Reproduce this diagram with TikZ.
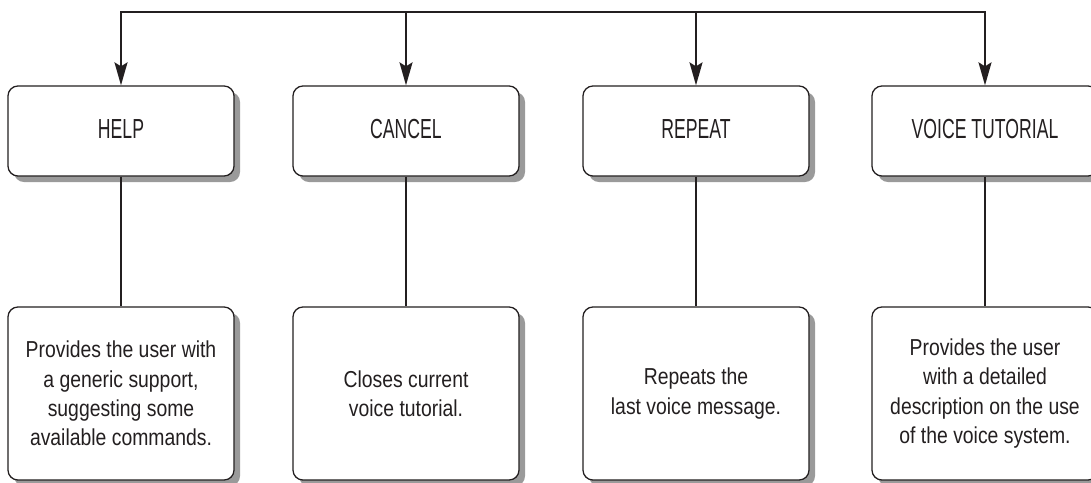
\documentclass[tikz,border=0pt]{standalone}
\usepackage{fontspec}
\setmainfont{Liberation Sans}[FakeStretch=0.84]
\newfontfamily\titlefont{Liberation Sans}[FakeStretch=0.64]
\usepackage{xcolor}
\usetikzlibrary{shadows,arrows.meta}
\definecolor{VMInk}{HTML}{231F20}
\definecolor{VMShadow}{HTML}{9A9A9A}
\tikzset{
  cmdbox/.style={draw=VMInk,line width=0.9pt,fill=white,rounded corners=0.25cm,
    minimum width=5.65cm,minimum height=2.25cm,inner sep=0pt,text=VMInk,
    font=\titlefont\fontsize{19.6}{22}\selectfont,
    drop shadow={shadow xshift=0.15cm,shadow yshift=-0.15cm,fill=VMShadow,opacity=1}},
  infobox/.style={cmdbox,minimum height=4.325cm,align=center,
    font=\fontsize{16.4}{20.8}\selectfont},
  link/.style={draw=VMInk,line width=1.4pt},
  feed/.style={link,-{Stealth[length=0.575cm,width=0.325cm,inset=0.1cm]}}
}

\begin{document}
\begin{tikzpicture}[x=0.025cm,y=-0.025cm]
\path[use as bounding box] (0,0) rectangle (1091,482);
\coordinate (bus) at (0,12);
% command boxes
\node[cmdbox] (help) at (121,131) {\raisebox{3pt}{HELP}};
\node[cmdbox] (cancel) at (406,131) {\raisebox{3pt}{CANCEL}};
\node[cmdbox] (repeat) at (696,131) {\raisebox{3pt}{REPEAT}};
\node[cmdbox] (tutorial) at (985,131) {\raisebox{3pt}{VOICE TUTORIAL}};
% descriptions
\node[infobox] (helpinfo) at (121,393.5) {Provides the user with\\a generic support,\\suggesting some\\available commands.};
\node[infobox] (cancelinfo) at (406,393.5) {Closes current\\voice tutorial.};
\node[infobox] (repeatinfo) at (696,393.5) {Repeats the\\last voice message.};
\node[infobox] (tutorialinfo) at (985,393.5) {Provides the user\\with a detailed\\description on the use\\of the voice system.};
% bus and arrows
\draw[feed,{Stealth[length=0.575cm,width=0.325cm,inset=0.1cm]}-{Stealth[length=0.575cm,width=0.325cm,inset=0.1cm]}]
  (help.north) -- (help.north |- bus) -- (tutorial.north |- bus) -- (tutorial.north);
\draw[feed] (cancel.north |- bus) -- (cancel.north);
\draw[feed] (repeat.north |- bus) -- (repeat.north);
% links to descriptions
\draw[link] (help.south) -- (helpinfo.north);
\draw[link] (cancel.south) -- (cancelinfo.north);
\draw[link] (repeat.south) -- (repeatinfo.north);
\draw[link] (tutorial.south) -- (tutorialinfo.north);
\end{tikzpicture}
\end{document}
